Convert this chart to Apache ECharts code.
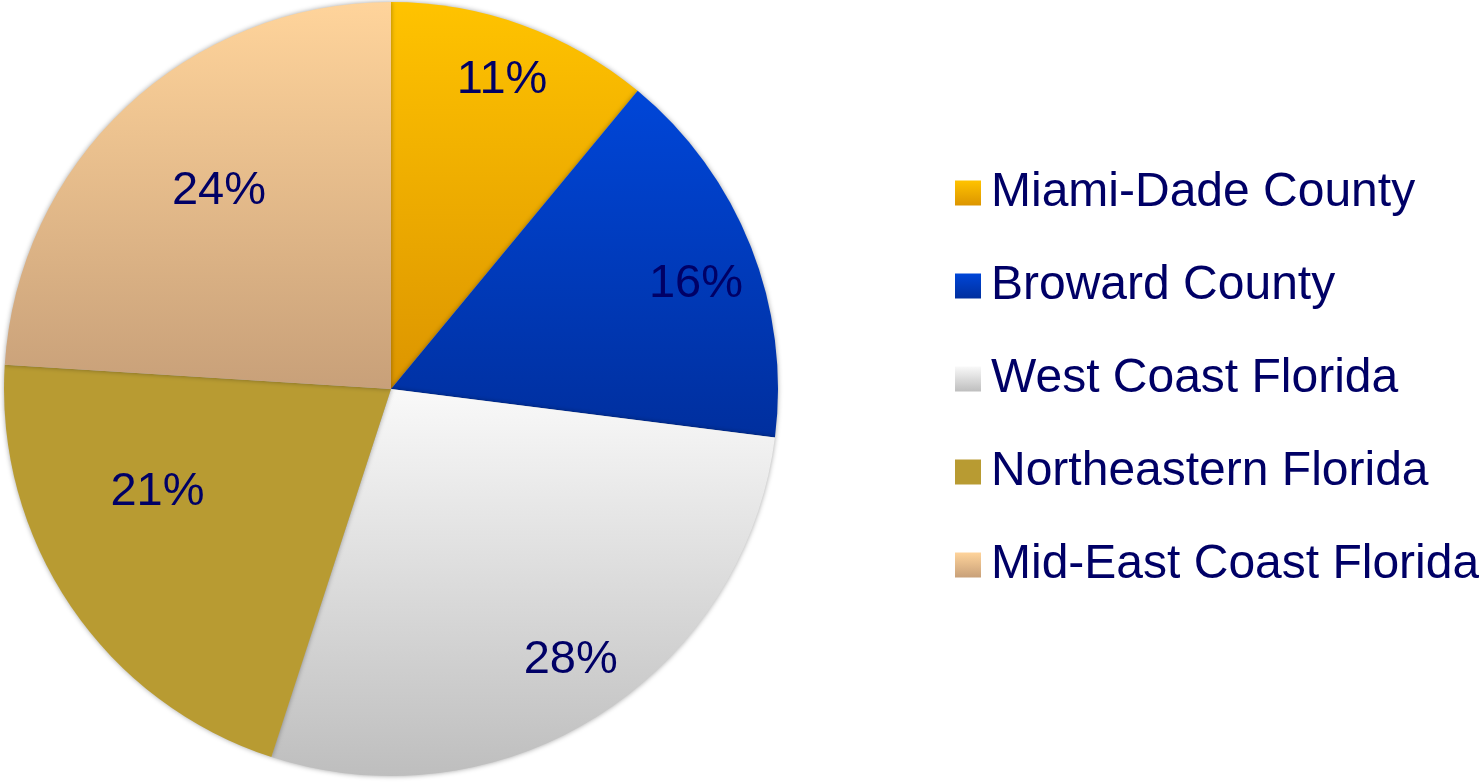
<!DOCTYPE html>
<html>
<head>
<meta charset="utf-8">
<script src="https://cdn.jsdelivr.net/npm/echarts@6/dist/echarts.min.js"></script>
<style>
html,body{margin:0;padding:0;background:#fff;}
#chart{width:1479px;height:782px;}
</style>
</head>
<body>
<div id="chart"></div>
<script>
const categories = ['Miami-Dade County', 'Broward County', 'West Coast Florida', 'Northeastern Florida', 'Mid-East Coast Florida'];
const values = [11, 16, 28, 21, 24];
const topColors = ['#FFC300', '#0046D8', '#F9F9F9', '#B89B32', '#FFD49B'];
const bottomColors = ['#DC9500', '#002F9E', '#BEBEBE', '#B89B32', '#C8A079'];
const rightLabels = ['Miami-Dade County', 'Broward County', 'West Coast Florida'];

const chart = echarts.init(document.getElementById('chart'));
const FONT = 'Liberation Sans, Arial, sans-serif';
const center = [391, 389];
const R = 387;

const mainData = categories.map((c, i) => ({
  name: c,
  value: values[i],
  itemStyle: {
    color: new echarts.graphic.LinearGradient(0, 0, 0, 1, [
      {offset: 0, color: topColors[i]},
      {offset: 1, color: bottomColors[i]}
    ])
  }
}));

function labelData(showFn, extra) {
  return categories.map((c, i) => ({
    name: c,
    value: values[i],
    label: Object.assign({show: showFn(c)}, (extra && extra[c]) || {})
  }));
}

const labelCommon = {
  position: 'inside',
  formatter: '{c}%',
  color: '#000066',
  fontSize: 47,
  fontFamily: FONT
};

chart.setOption({
  animation: false,
  legend: {
    orient: 'vertical',
    left: 950,
    top: 164,
    itemWidth: 26,
    itemHeight: 25,
    itemGap: 45,
    icon: 'rect',
    data: categories,
    textStyle: {color: '#000066', fontSize: 48, fontFamily: FONT, padding: [0, 0, 0, 5]}
  },
  series: [
    {
      type: 'pie',
      center: center,
      radius: [0, R],
      startAngle: 90,
      clockwise: true,
      label: {show: false},
      labelLine: {show: false},
      itemStyle: {shadowBlur: 5, shadowColor: 'rgba(0,0,0,0.35)'},
      emphasis: {disabled: true},
      data: mainData
    },
    {
      type: 'pie',
      center: center,
      radius: [263, R],
      startAngle: 90,
      clockwise: true,
      silent: true,
      itemStyle: {color: 'rgba(0,0,0,0)'},
      label: labelCommon,
      labelLine: {show: false},
      emphasis: {disabled: true},
      data: labelData(c => rightLabels.includes(c), {'Broward County': {offset: [0, 16]}, 'West Coast Florida': {offset: [4, -6]}})
    },
    {
      type: 'pie',
      center: center,
      radius: [133, R],
      startAngle: 90,
      clockwise: true,
      silent: true,
      itemStyle: {color: 'rgba(0,0,0,0)'},
      label: labelCommon,
      labelLine: {show: false},
      emphasis: {disabled: true},
      data: labelData(c => !rightLabels.includes(c), {'Northeastern Florida': {offset: [-16, -45]}, 'Mid-East Coast Florida': {offset: [8, -6]}})
    }
  ]
});
</script>
</body>
</html>
